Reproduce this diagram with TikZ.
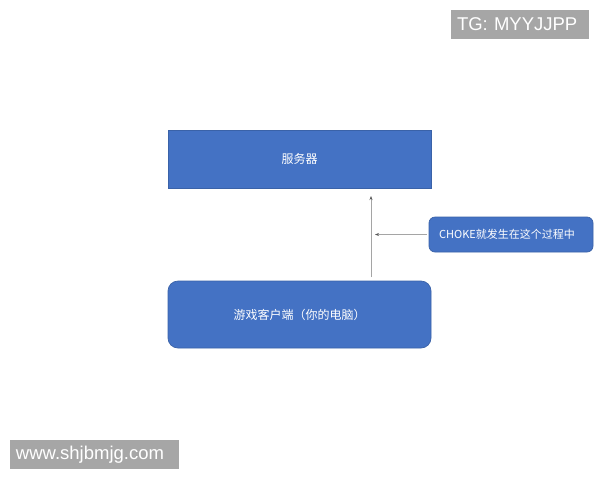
\documentclass[tikz,border=0pt]{standalone}
\usepackage{fontspec}
\setmainfont{Liberation Sans}
\newfontfamily\cjk{Noto Sans CJK SC}
\usetikzlibrary{arrows.meta}
\definecolor{boxblue}{HTML}{4472C4}
\definecolor{boxedge}{HTML}{3A62A8}
\definecolor{wmgray}{HTML}{A6A6A6}
\definecolor{linegray}{HTML}{A5A5A5}
\begin{document}
\begin{tikzpicture}[x=1pt,y=-1pt,
  bluebox/.style={draw=boxedge,fill=boxblue,line width=0.7pt,text=white,inner sep=0pt},
  wmbox/.style={fill=wmgray,text=white,inner xsep=6pt,inner ysep=0pt,align=left,font=\fontsize{18.5}{20}\selectfont},
  conn/.style={draw=linegray,line width=0.8pt,-{Stealth[length=4pt,width=3pt,color=gray!70!black]}}]
\useasboundingbox[fill=white] (0,0) rectangle (600,480);
\node[bluebox,minimum width=263pt,minimum height=58pt,font=\cjk\fontsize{12}{14}\selectfont] (server) at (299.5,159) {服务器};
\node[bluebox,rounded corners=10pt,minimum width=263pt,minimum height=67pt,font=\cjk\fontsize{12}{14}\selectfont] (client) at (299.5,314.5) {游戏客户端（你的电脑）};
\node[bluebox,rounded corners=6pt,minimum width=164pt,minimum height=35pt,font=\cjk\fontsize{11}{12}\selectfont] (choke) at (511,234.5) {CHOKE就发生在这个过程中\hspace*{8pt}};
\coordinate (vtop) at (371,196);
\coordinate (vbot) at (371,277);
\coordinate (hend) at (375,234.5);
\draw[conn] (vbot) -- (vtop);
\draw[conn] (choke.west) ++(-2,0) -- (hend);
\node[wmbox,text width=126pt,minimum height=29pt] (tg) at (520,24.5) {TG: MYYJJPP};
\node[wmbox,text width=157pt,minimum height=29pt] (www) at (94.5,454.5) {www.shjbmjg.com};
\end{tikzpicture}
\end{document}
